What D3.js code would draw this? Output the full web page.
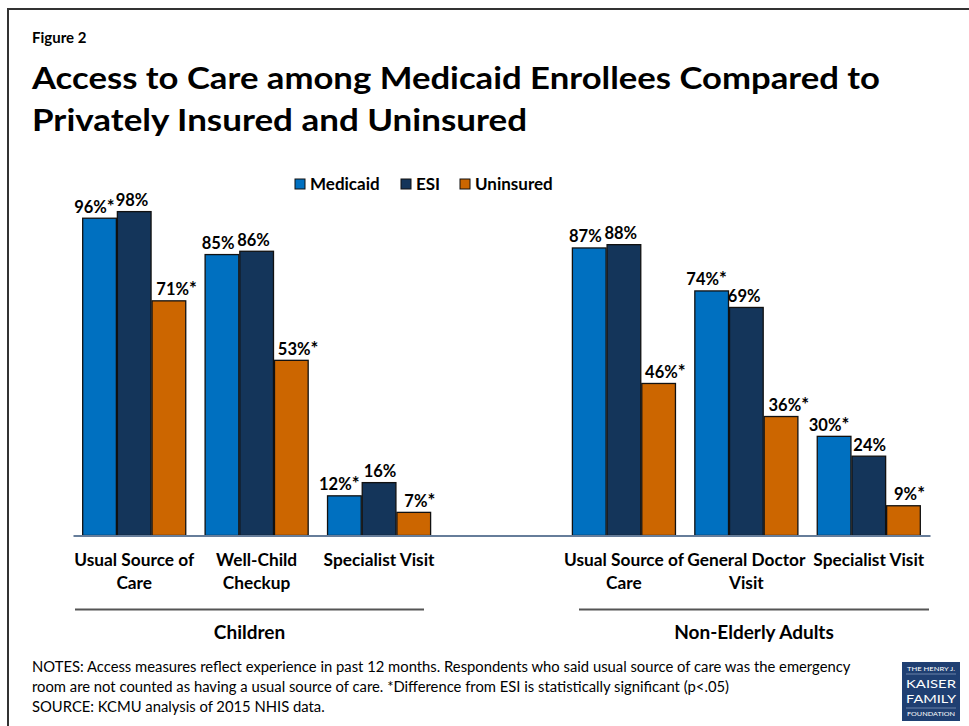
<!DOCTYPE html>
<html>
<head>
<meta charset="utf-8">
<script src="https://cdn.jsdelivr.net/npm/d3@7"></script>
<style>
  html, body { margin: 0; padding: 0; background: #fff; }
  svg { display: block; }
  text { font-family: Lato, "Open Sans", sans-serif; fill: #000; }
</style>
</head>
<body>
<svg id="chart" width="969" height="726"></svg>
<script>
// ---------------- Data ----------------
const figureLabel = "Figure 2";
const titleLines = ["Access to Care among Medicaid Enrollees Compared to", "Privately Insured and Uninsured"];
const seriesNames = ["Medicaid", "ESI", "Uninsured"];
const seriesColors = ["#0070C0", "#14355A", "#CC6600"];
const slots = ["c0", "c1", "c2", "gap", "a0", "a1", "a2"];
const categoryLabels = [
  ["Usual Source of", "Care"], ["Well-Child", "Checkup"], ["Specialist Visit"],
  ["Usual Source of", "Care"], ["General Doctor", "Visit"], ["Specialist Visit"]
];
const categorySlots = ["c0", "c1", "c2", "a0", "a1", "a2"];
const medicaid = [96, 85, 12, 87, 74, 30];
const esi = [98, 86, 16, 88, 69, 24];
const uninsured = [71, 53, 7, 46, 36, 9];
const medicaidSig = [true, false, true, false, true, true];
const esiSig = [false, false, false, false, false, false];
const uninsuredSig = [true, true, true, true, true, true];
const groupNames = ["Children", "Non-Elderly Adults"];
const notes = [
  "NOTES: Access measures reflect experience in past 12 months. Respondents who said usual source of care was the emergency",
  "room are not counted as having a usual source of care. *Difference from ESI is statistically significant (p<.05)",
  "SOURCE: KCMU analysis of 2015 NHIS  data."
];

// ---------------- Setup ----------------
const svg = d3.select("#chart");
const seriesValues = [medicaid, esi, uninsured];
const seriesSig = [medicaidSig, esiSig, uninsuredSig];

const x0 = d3.scaleBand().domain(slots).range([73, 930]).paddingInner(0.15).paddingOuter(0.075);
const x1 = d3.scaleBand().domain(seriesNames).range([0, x0.bandwidth()]).padding(0);
const y = d3.scaleLinear().domain([0, 100]).range([535.5, 205]);
const color = d3.scaleOrdinal().domain(seriesNames).range(seriesColors);

// Frame
svg.append("path")
  .attr("d", "M8,726 L8,9 L969,9")
  .attr("fill", "none").attr("stroke", "#333").attr("stroke-width", 2);

// Figure label & title
svg.append("text").attr("x", 32).attr("y", 43)
  .attr("font-size", 15).attr("font-weight", 700).text(figureLabel);
const titleLens = [848, 495];
titleLines.forEach((t, i) => {
  svg.append("text").attr("x", 32).attr("y", 89 + i * 42)
    .attr("font-size", 31).attr("font-weight", 700)
    .attr("textLength", titleLens[i]).attr("lengthAdjust", "spacingAndGlyphs")
    .text(t);
});

// Legend
const legendX = [295, 401, 460];
const legend = svg.append("g");
seriesNames.forEach((s, i) => {
  const g = legend.append("g").attr("transform", `translate(${legendX[i]},179)`);
  g.append("rect").attr("width", 10).attr("height", 10)
    .attr("fill", color(s)).attr("stroke", "#111").attr("stroke-width", 1);
  g.append("text").attr("x", 15).attr("y", 10.5)
    .attr("font-size", 17).attr("font-weight", 700).text(s);
});

// Bars
const rows = categorySlots.map((slot, ci) => ({
  slot,
  vals: seriesNames.map((s, si) => ({ series: s, value: seriesValues[si][ci], sig: seriesSig[si][ci] }))
}));

const cat = svg.append("g").selectAll("g").data(rows).join("g")
  .attr("transform", d => `translate(${x0(d.slot)},0)`);

cat.selectAll("rect").data(d => d.vals).join("rect")
  .attr("x", d => x1(d.series) + 0.5)
  .attr("width", x1.bandwidth() - 1)
  .attr("y", d => y(d.value))
  .attr("height", d => y(0) - y(d.value))
  .attr("fill", d => color(d.series))
  .attr("stroke", "#111").attr("stroke-width", 1.3);

// Value labels: number part centred on the bar, asterisk hanging right,
// then neighbouring labels pushed apart if they collide.
cat.each(function (d) {
  const g = d3.select(this);
  const labels = d.vals.map(v => {
    const t = g.append("text")
      .attr("y", y(v.value) - 5.5)
      .attr("font-size", 16.5).attr("font-weight", 700);
    t.append("tspan").text(v.value + "%");
    const numW = t.node().getBBox().width;
    if (v.sig) t.append("tspan").attr("font-size", 18.5).text("*");
    const fullW = t.node().getBBox().width;
    const cx = x1(v.series) + x1.bandwidth() / 2;
    return { t, left: cx - numW / 2, w: fullW };
  });
  const gap = 8;
  for (let i = 0; i < labels.length - 1; i++) {
    const a = labels[i], b = labels[i + 1];
    const overlap = a.left + a.w + gap - b.left;
    if (overlap > 0) {
      a.left -= overlap * 0.65;
      b.left += overlap * 0.35;
    }
  }
  labels.forEach(l => l.t.attr("x", l.left));
});

// Axis baseline
const axis = svg.append("g").attr("transform", `translate(0,${y(0)})`)
  .call(d3.axisBottom(x0).tickSize(0).tickSizeOuter(0).tickFormat(""));
axis.select(".domain").attr("stroke", "#667D9A").attr("stroke-width", 2);
axis.selectAll(".tick").remove();

// Category labels
categorySlots.forEach((slot, ci) => {
  const cx = x0(slot) + x0.bandwidth() / 2;
  categoryLabels[ci].forEach((line, li) => {
    svg.append("text").attr("x", cx).attr("y", 566 + li * 23)
      .attr("text-anchor", "middle").attr("font-size", 17.3).attr("font-weight", 700)
      .text(line);
  });
});

// Group lines and labels
const groupLineX = [[75, 424], [579, 929]];
groupNames.forEach((g, gi) => {
  const [a, b] = groupLineX[gi];
  svg.append("line").attr("x1", a).attr("x2", b).attr("y1", 609.5).attr("y2", 609.5)
    .attr("stroke", "#555").attr("stroke-width", 2);
  svg.append("text").attr("x", (a + b) / 2).attr("y", 639)
    .attr("text-anchor", "middle").attr("font-size", 19).attr("font-weight", 700)
    .text(g);
});

// Notes
notes.forEach((n, i) => {
  svg.append("text").attr("x", 32).attr("y", 672 + i * 20)
    .attr("font-size", 14.8).text(n);
});

// Logo
const logo = svg.append("g").attr("transform", "translate(902,662)");
logo.append("rect").attr("width", 58).attr("height", 59).attr("fill", "#1F3F72");
const serif = "'DejaVu Serif', 'Liberation Serif', serif";
logo.append("text").attr("x", 29).attr("y", 9).attr("text-anchor", "middle")
  .attr("font-size", 6).attr("font-family", serif).style("fill", "#fff")
  .attr("textLength", 48).attr("lengthAdjust", "spacingAndGlyphs").text("THE HENRY J.");
logo.append("line").attr("x1", 4).attr("x2", 54).attr("y1", 12).attr("y2", 12).attr("stroke", "#9fb0cc").attr("stroke-width", 0.6);
logo.append("text").attr("x", 29).attr("y", 26).attr("text-anchor", "middle")
  .attr("font-size", 12).attr("font-family", serif).style("fill", "#fff")
  .attr("textLength", 50).attr("lengthAdjust", "spacingAndGlyphs").text("KAISER");
logo.append("text").attr("x", 29).attr("y", 41).attr("text-anchor", "middle")
  .attr("font-size", 12).attr("font-family", serif).style("fill", "#fff")
  .attr("textLength", 50).attr("lengthAdjust", "spacingAndGlyphs").text("FAMILY");
logo.append("line").attr("x1", 4).attr("x2", 54).attr("y1", 46).attr("y2", 46).attr("stroke", "#9fb0cc").attr("stroke-width", 0.6);
logo.append("text").attr("x", 29).attr("y", 54).attr("text-anchor", "middle")
  .attr("font-size", 6).attr("font-family", serif).style("fill", "#fff")
  .attr("textLength", 48).attr("lengthAdjust", "spacingAndGlyphs").text("FOUNDATION");
</script>
</body>
</html>
